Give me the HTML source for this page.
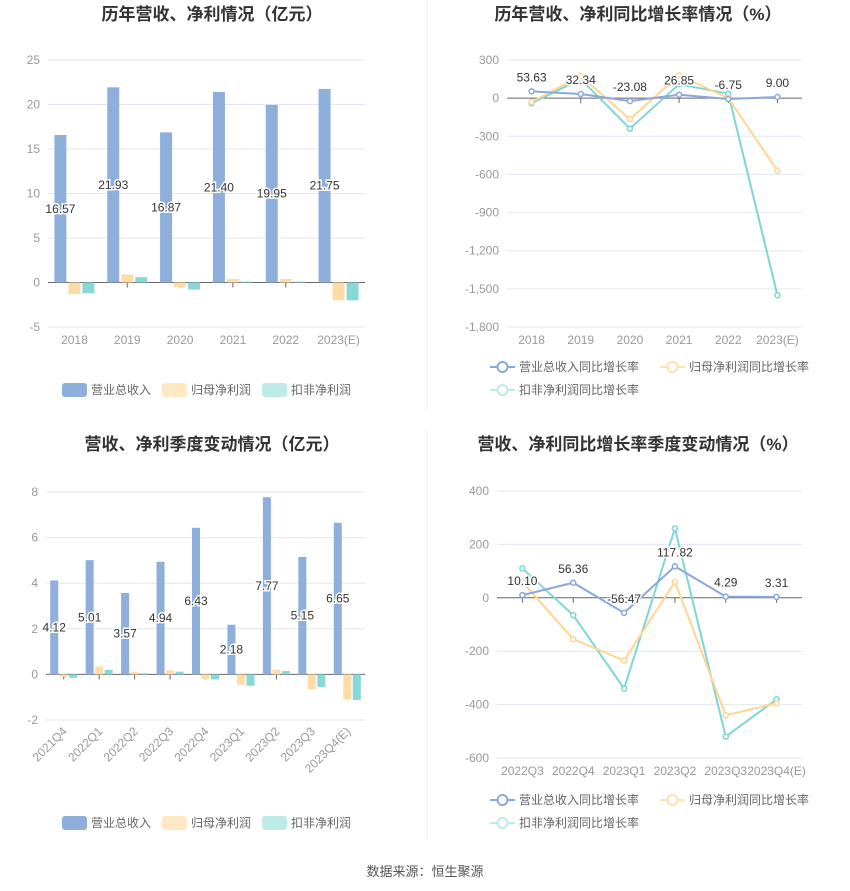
<!DOCTYPE html>
<html><head><meta charset="utf-8">
<style>
body{margin:0;background:#fff;width:850px;height:891px;overflow:hidden;font-family:"Liberation Sans","Noto Sans CJK SC",sans-serif;}
svg{position:absolute;left:0;top:0}
</style></head>
<body>
<svg id="s" width="850" height="891" font-family="Liberation Sans, Noto Sans CJK SC, sans-serif"></svg>
<script>
// Chart 1: annual revenue / profit (亿元)
const c1Cats=["2018","2019","2020","2021","2022","2023(E)"];
const c1Rev=[16.57,21.93,16.87,21.40,19.95,21.75];
const c1Net=[-1.3,0.9,-0.5,0.4,0.4,-2.0];
const c1Ded=[-1.2,0.6,-0.8,0.1,0.1,-2.0];
const c1Ticks=[25,20,15,10,5,0,-5];
// Chart 2: annual growth (%)
const c2Cats=["2018","2019","2020","2021","2022","2023(E)"];
const c2Rev=[53.63,32.34,-23.08,26.85,-6.75,9.00];
const c2Net=[-30,175,-165,180,0,-570];
const c2Ded=[-40,150,-240,110,35,-1550];
const c2Ticks=[300,0,-300,-600,-900,-1200,-1500,-1800];
// Chart 3: quarterly revenue / profit
const c3Cats=["2021Q4","2022Q1","2022Q2","2022Q3","2022Q4","2023Q1","2023Q2","2023Q3","2023Q4(E)"];
const c3Rev=[4.12,5.01,3.57,4.94,6.43,2.18,7.77,5.15,6.65];
const c3Net=[-0.1,0.35,0.12,0.18,-0.2,-0.45,0.2,-0.65,-1.1];
const c3Ded=[-0.15,0.2,0.05,0.12,-0.22,-0.5,0.15,-0.55,-1.12];
const c3Ticks=[8,6,4,2,0,-2];
// Chart 4: quarterly growth
const c4Cats=["2022Q3","2022Q4","2023Q1","2023Q2","2023Q3","2023Q4(E)"];
const c4Rev=[10.10,56.36,-56.47,117.82,4.29,3.31];
const c4Net=[60,-155,-235,60,-440,-395];
const c4Ded=[110,-65,-340,260,-520,-380];
const c4Ticks=[400,200,0,-200,-400,-600];

const NS="http://www.w3.org/2000/svg";
const svg=document.getElementById('s');
const BLUE="#8eaedc",ORANGE="#ffdca6",CYAN="#88d8d8";
const LBLUE="#8aa8dc",LORANGE="#ffd591",LCYAN="#7fd5d5";
function mk(tag,attrs,parent){const e=document.createElementNS(NS,tag);for(const k in attrs)e.setAttribute(k,attrs[k]);(parent||svg).appendChild(e);return e;}
function txt(x,y,s,attrs){const t=mk('text',Object.assign({x:x,y:y},attrs));t.textContent=s;return t;}
function fmt(v){return Math.abs(v)>=1000?v.toLocaleString('en-US'):String(v);}

function axes(x0,x1,yTop,yBot,ticks,cats,rotate){
  const max=ticks[0],min=ticks[ticks.length-1];
  const y=v=>yTop+(max-v)/(max-min)*(yBot-yTop);
  const bw=(x1-x0)/cats.length;
  const cx=i=>x0+bw*(i+0.5);
  ticks.forEach(t=>{
    const g=mk('line',{x1:x0,x2:x1,y1:y(t),y2:y(t),stroke:t===0?"#666":"#e0e6f1","stroke-width":1});
    
    
    const l=txt(x0-8,y(t)+4,fmt(t),{"text-anchor":"end","font-size":12,fill:"#999"});
    
    
  });
  cats.forEach((c,i)=>{
    const tk=mk('line',{x1:cx(i),x2:cx(i),y1:y(0),y2:y(0)+5,stroke:"#666"});
    
    
    let l;
    if(rotate){
      l=txt(cx(i)+4,yBot+12,c,{"text-anchor":"end","font-size":12,fill:"#999",transform:`rotate(-45 ${cx(i)+4} ${yBot+12})`});
    } else {
      l=txt(cx(i),yBot+17,c,{"text-anchor":"middle","font-size":12,fill:"#999"});
    }
    
    
  });
  return {y:y,cx:cx,bw:bw};
}

function barChart(x0,x1,yTop,yBot,ticks,cats,series,barW,gap){
  const a=axes(x0,x1,yTop,yBot,ticks,cats,cats.length>6);
  const colors=[BLUE,ORANGE,CYAN];
  const names=['bar-revenue','bar-net-profit','bar-deducted-profit'];
  const total=barW*3+gap*2;
  series.forEach((s,si)=>{
    s.forEach((v,i)=>{
      const x=a.cx(i)-total/2+si*(barW+gap);
      const y0=a.y(0),yv=a.y(v);
      const r=mk('rect',{x:x,y:Math.min(y0,yv),width:barW,height:Math.abs(yv-y0),fill:colors[si]});
      
      
    });
  });
  series[0].forEach((v,i)=>{
    const x=a.cx(i)-total/2+barW/2;
    const y=a.y(v/2)+4;
    const l=txt(x,y,v.toFixed(2),{"text-anchor":"middle","font-size":12,fill:"#333",stroke:"#fff","stroke-width":3,"paint-order":"stroke"});
    
    
  });
}

function lineChart(x0,x1,yTop,yBot,ticks,cats,series){
  const a=axes(x0,x1,yTop,yBot,ticks,cats,false);
  const colors=[LBLUE,LORANGE,LCYAN];
  const names=['line-revenue-growth','line-net-profit-growth','line-deducted-profit-growth'];
  [2,1,0].forEach(si=>{
    const s=series[si];
    const pts=s.map((v,i)=>a.cx(i)+","+a.y(v)).join(" ");
    const p=mk('polyline',{points:pts,fill:"none",stroke:colors[si],"stroke-width":2});
    
    
    s.forEach((v,i)=>{
      const c=mk('circle',{cx:a.cx(i),cy:a.y(v),r:2.5,fill:"#fff",stroke:colors[si],"stroke-width":1.5});
      
      
    });
  });
  series[0].forEach((v,i)=>{
    const l=txt(a.cx(i),a.y(v)-10,v.toFixed(2),{"text-anchor":"middle","font-size":12,fill:"#333",stroke:"#fff","stroke-width":3,"paint-order":"stroke"});
    
    
  });
}

function title(x,y,s){const t=txt(x,y,s,{"text-anchor":"middle","font-size":17,"font-weight":"bold",fill:"#333"});

}

function rectLegend(y,x){
  const items=[["营业总收入",BLUE],["归母净利润","#ffe8c4"],["扣非净利润","#bfeaea"]];
  const xs=[x,x+100,x+200];
  items.forEach((it,i)=>{
    const r=mk('rect',{x:xs[i],y:y-7,width:25,height:14,rx:3,fill:it[1]});
    
    
    const t=txt(xs[i]+29,y+4,it[0],{"font-size":12,fill:"#666"});
    
    
  });
}
function lineLegend(y,x){
  const items=[["营业总收入同比增长率",LBLUE,x,y],["归母净利润同比增长率","#ffe2b3",x+170,y],["扣非净利润同比增长率","#bde9e9",x,y+23]];
  items.forEach(it=>{
    const l=mk('line',{x1:it[2],x2:it[2]+25,y1:it[3],y2:it[3],stroke:it[1],"stroke-width":2});
    
    
    const c=mk('circle',{cx:it[2]+12.5,cy:it[3],r:5,fill:"#fff",stroke:it[1],"stroke-width":2});
    
    
    const t=txt(it[2]+29,it[3]+4,it[0],{"font-size":12,fill:"#666"});
    
    
  });
}

const d=mk('line',{x1:427,x2:427,y1:0,y2:410,stroke:"#eee"});


const d2=mk('line',{x1:427,x2:427,y1:430,y2:840,stroke:"#eee"});



title(212,20,"历年营收、净利情况（亿元）");
title(638,20,"历年营收、净利同比增长率情况（%）");
title(212,450,"营收、净利季度变动情况（亿元）");
title(638,450,"营收、净利同比增长率季度变动情况（%）");

barChart(48,365,60,327,c1Ticks,c1Cats,[c1Rev,c1Net,c1Ded],12,2);
lineChart(507,802,60,327,c2Ticks,c2Cats,[c2Rev,c2Net,c2Ded]);
barChart(46,365,492,720,c3Ticks,c3Cats,[c3Rev,c3Net,c3Ded],8,1.5);
lineChart(497,802,491,758,c4Ticks,c4Cats,[c4Rev,c4Net,c4Ded]);

rectLegend(390,62);
lineLegend(367,490);
rectLegend(823,62);
lineLegend(800,490);

const f=txt(425,876,"数据来源：恒生聚源",{"text-anchor":"middle","font-size":13,fill:"#555"});


</script>
</body></html>
